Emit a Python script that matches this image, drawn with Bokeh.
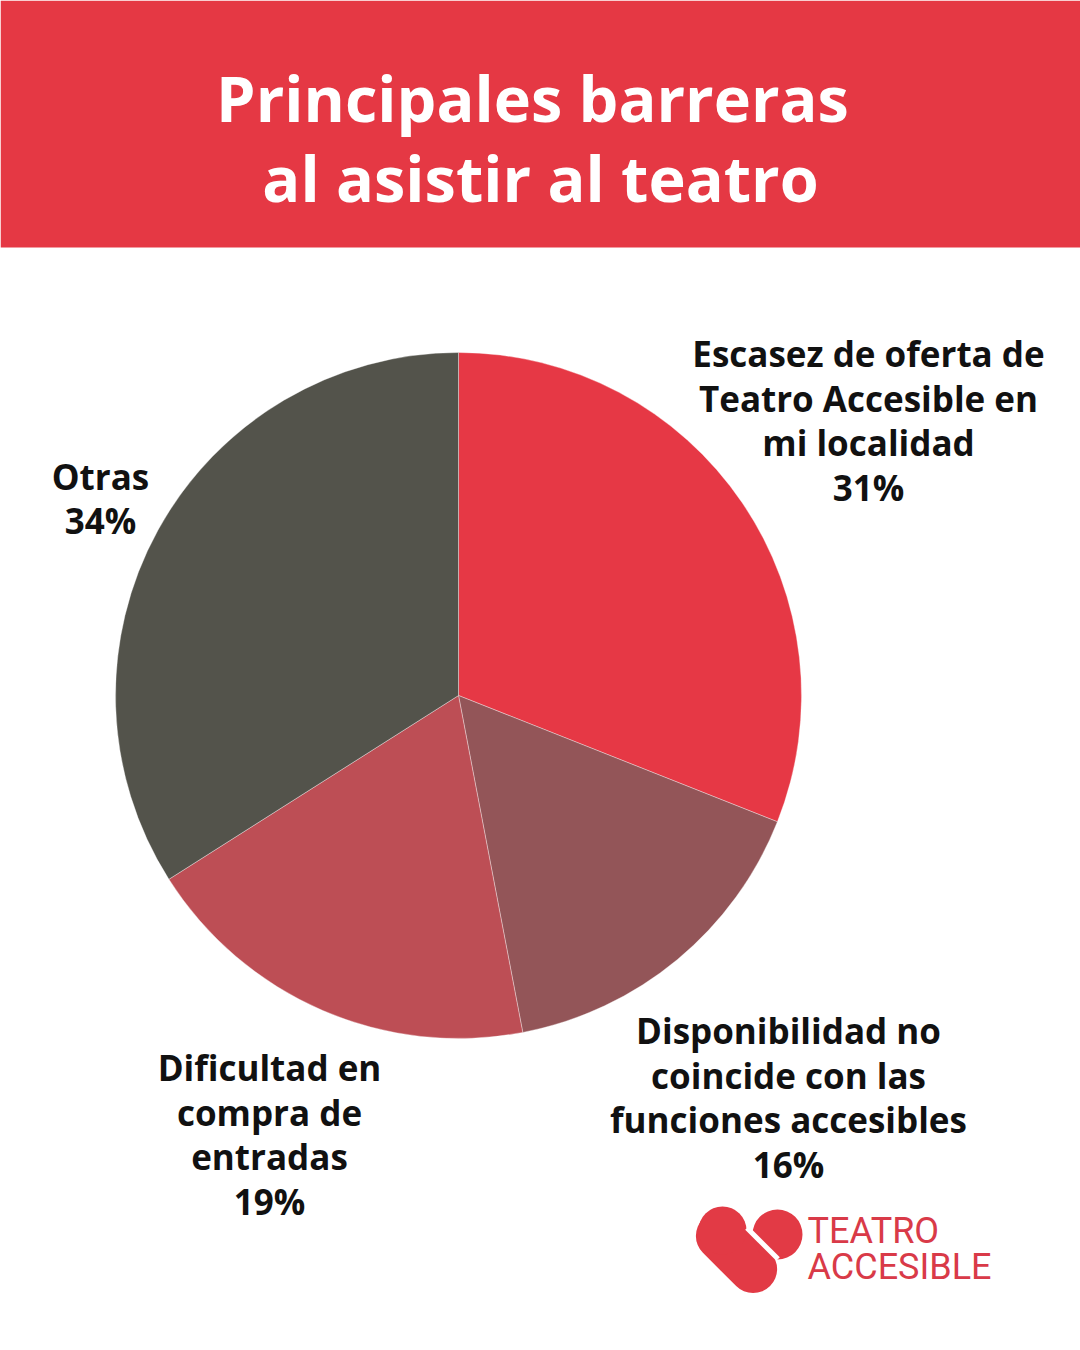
import numpy as np
from bokeh.plotting import figure
from bokeh.models import Range1d, ColumnDataSource
from bokeh.core.properties import value
from bokeh.embed import file_html
from bokeh.resources import INLINE

# ---- data ----
categories = [
    "Escasez de oferta de\nTeatro Accesible en\nmi localidad",
    "Disponibilidad no\ncoincide con las\nfunciones accesibles",
    "Dificultad en\ncompra de\nentradas",
    "Otras",
]
shares = [31, 16, 19, 34]
colors = ["#E63845", "#935558", "#BD4E55", "#53534B"]

title_lines = ["Principales barreras", "al asistir al teatro"]

# ---- layout (reference pixel coordinates, y measured downward) ----
W, H = 1080, 1350
cx, cy, R = 458, 695, 343
label_pos = [(868, 420), (788, 1097), (269, 1134), (100, 498)]

def Y(y):
    return H - y

p = figure(width=W, height=H, output_backend="svg",
           toolbar_location=None, x_range=Range1d(0, W),
           y_range=Range1d(0, H), min_border=0, outline_line_color=None)
p.axis.visible = False
p.grid.visible = False
p.background_fill_color = "white"
p.border_fill_color = "white"

# header band
p.quad(left=[0], right=[W], top=[Y(0)], bottom=[Y(247)],
       fill_color="#E53844", line_color=None)
p.text(x=[532, 540], y=[Y(97), Y(177)], text=title_lines,
       text_font=value("Open Sans"), text_font_style="bold",
       text_font_size="63px", text_color="white",
       text_align="center", text_baseline="middle")

# pie
frac = np.array(shares, dtype=float) / sum(shares)
cum = np.concatenate([[0], np.cumsum(frac)])
start = np.pi / 2 - cum[1:] * 2 * np.pi
end = np.pi / 2 - cum[:-1] * 2 * np.pi
src = ColumnDataSource(dict(start=start, end=end, color=colors))
p.wedge(x=cx, y=Y(cy), radius=R, start_angle="start", end_angle="end",
        fill_color="color", line_color="white", line_alpha=0.35,
        line_width=1, source=src)

# labels
lab_text = [f"{c}\n{s}%" for c, s in zip(categories, shares)]
p.text(x=[lp[0] for lp in label_pos], y=[Y(lp[1]) for lp in label_pos],
       text=lab_text, text_font=value("Open Sans"), text_font_style="bold",
       text_font_size="35px", text_color="#111111", text_align="center",
       text_baseline="middle", text_line_height=0.95)

# logo
p.rect(x=[736], y=[Y(1252)], width=[95], height=[48], angle=[-np.pi / 4],
       fill_color="#E23A45", line_color=None, border_radius=24)
p.circle(x=[722], y=[Y(1230)], radius=24, fill_color="#E23A45", line_color=None)
p.circle(x=[777], y=[Y(1234)], radius=25, fill_color="#E23A45", line_color=None)
p.rect(x=[762], y=[Y(1243)], width=[44], height=[5], angle=[-np.pi / 4],
       fill_color="white", line_color=None)
p.text(x=[807, 807], y=[Y(1230), Y(1266)], text=["TEATRO", "ACCESIBLE"],
       text_font=value("Roboto"), text_font_size="36px",
       text_color="#D93A48", text_align="left", text_baseline="middle")

open("out.html", "w").write(file_html(p, INLINE))
